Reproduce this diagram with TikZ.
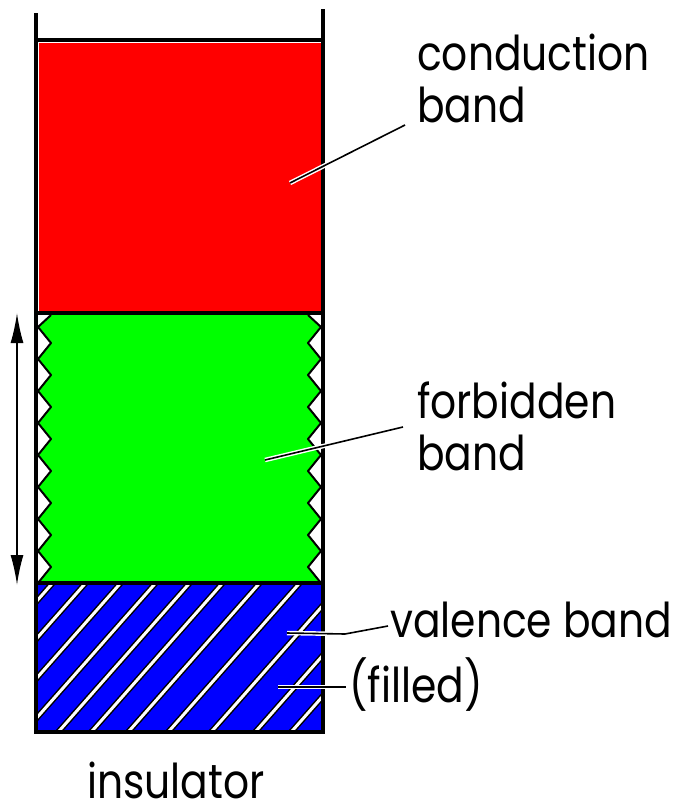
\documentclass[tikz,border=0pt]{standalone}
\usepackage{fontspec}
\setmainfont[FakeStretch=0.85]{Poppins}
\usetikzlibrary{arrows.meta}
\begin{document}
\begin{tikzpicture}[x=1pt,y=-1pt,line join=round,
  wall/.style={line width=3.2pt},
  zig/.style={line width=2pt},
  hatchout/.style={line width=6pt,black},
  hatchin/.style={line width=3pt,white},
  lbl/.style={anchor=base west,inner sep=0pt,font=\fontsize{48}{48}\selectfont},
  halo/.style={line width=4.5pt,white},
  leader/.style={line width=1.6pt,black},
  gaparrow/.style={line width=1.8pt,{Latex[length=30pt,width=13pt]}-{Latex[length=30pt,width=13pt]}}]
\useasboundingbox (0,0) rectangle (679,806);
% fills
\fill[red] (39,43) rectangle (320.5,311);
\begin{scope}
\clip (37,315) rectangle (322,581.5);
\fill[green] (51,315) -- (38,327) -- (51,343) -- (38,359) -- (51,375) -- (38,391) -- (51,407) -- (38,423) -- (51,439) -- (38,455) -- (51,471) -- (38,487) -- (51,503) -- (38,519) -- (51,535) -- (38,551) -- (51,567) -- (38,583)
  -- (321,583) -- (308,567) -- (321,551) -- (308,535) -- (321,519) -- (308,503) -- (321,487) -- (308,471) -- (321,455) -- (308,439) -- (321,423) -- (308,407) -- (321,391) -- (308,375) -- (321,359) -- (308,343) -- (321,327) -- (308,315) -- cycle;
\end{scope}
\begin{scope}
\clip (37.5,584.5) rectangle (321.5,730.5);
\fill[blue] (37.5,584.5) rectangle (321.5,730.5);
\foreach \t in {50,83,118,153,187,220,257,297,340,384,420}{
  \draw[hatchout] (\t+15,569) -- (\t-142,747);
  \draw[hatchin] (\t+15,569) -- (\t-142,747);
}
\end{scope}
% zigzags
\draw[zig] (51,315) -- (38,327) -- (51,343) -- (38,359) -- (51,375) -- (38,391) -- (51,407) -- (38,423) -- (51,439) -- (38,455) -- (51,471) -- (38,487) -- (51,503) -- (38,519) -- (51,535) -- (38,551) -- (51,567) -- (38,583);
\draw[zig] (321,583) -- (308,567) -- (321,551) -- (308,535) -- (321,519) -- (308,503) -- (321,487) -- (308,471) -- (321,455) -- (308,439) -- (321,423) -- (308,407) -- (321,391) -- (308,375) -- (321,359) -- (308,343) -- (321,327) -- (308,315);
% walls
\draw[wall] (36,13) -- (36,733.5);
\draw[wall] (323,9) -- (323,733.5);
\draw[wall] (36,40) -- (323,40);
\draw[wall] (36,313) -- (323,313);
\draw[wall] (36,583) -- (323,583);
\draw[wall] (36,732) -- (323,732);
% labels
\node[lbl] (cond1) at (417,70) {conduction};
\node[lbl] (cond2) at (417,122) {band};
\node[lbl] (forb1) at (417,418) {forbidden};
\node[lbl] (forb2) at (417,470) {band};
\node[lbl] (val) at (390,637) {valence band};
\node[lbl] (fill) at (349,702) {(filled)};
\node[lbl,text depth=0pt] (ins) at (87,798) {insulator};
% leader end points
\coordinate (cb-in) at (290,183);
\coordinate (cb-out) at (405,125);
\coordinate (fb-in) at (265,460);
\coordinate (fb-out) at (403,427);
\coordinate (vb-in) at (287,633);
\coordinate (vb-mid) at (345,634);
\coordinate (vb-out) at (388,626);
\coordinate (fl-in) at (278,687);
\coordinate (fl-out) at (346,687);
\foreach \a/\b in {cb-in/cb-out,fb-in/fb-out,fl-in/fl-out}{
  \draw[halo] (\a) -- (\b);
  \draw[leader] (\a) -- (\b);
}
\draw[halo] (vb-in) -- (vb-mid) -- (vb-out);
\draw[leader] (vb-in) -- (vb-mid) -- (vb-out);
% gap arrow
\coordinate (gap-top) at (17,313);
\coordinate (gap-bot) at (17,585);
\draw[gaparrow] (gap-top) -- (gap-bot);
\end{tikzpicture}
\end{document}
